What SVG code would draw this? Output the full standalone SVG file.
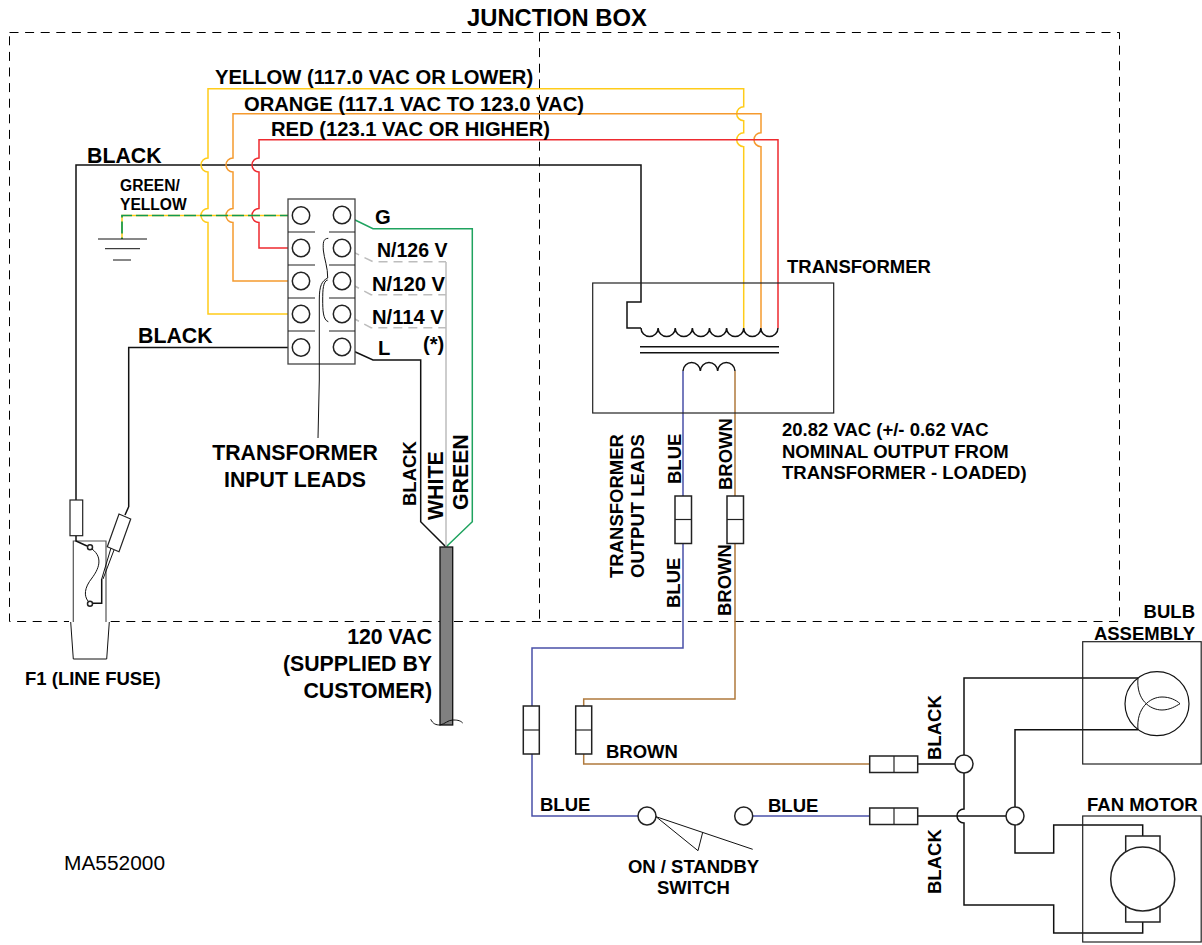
<svg xmlns="http://www.w3.org/2000/svg" width="1202" height="945" viewBox="0 0 1202 945">
<style>
text{font-family:"Liberation Sans",Arial,sans-serif;font-weight:700;fill:#000}
.a{font-size:18.500px}.m{font-size:20.200px}.l{font-size:21.300px}.xs{font-size:15.600px}
.w{fill:none;stroke-width:1.500;stroke-linejoin:miter}
.k{stroke:#111}.y{stroke:#ffcc1a}.o{stroke:#f59a2e}.r{stroke:#ee2a2f}.g{stroke:#1fa35f}.b{stroke:#4a50a8}.n{stroke:#b07a3c}.h{stroke:#bdbdbd}
.t{fill:#fff;stroke:#222;stroke-width:1.500}
.thin{fill:none;stroke:#111;stroke-width:1}
.box{fill:none;stroke:#222;stroke-width:1.200}
.dash{fill:none;stroke:#000;stroke-width:1;stroke-dasharray:9 6.600}
</style>
<g id="junction-box"><rect class="dash" x="9.500" y="32.500" width="1110" height="589"/><path class="dash" d="M539.500 32.500V621.500"/></g>
<g id="connectors">
<path class="w k" d="M76 500V165H641V302H627V328H641"/>
<path class="w y" d="M292 314H208V222.500A7 7 0 0 1 208 208.500V172A7 7 0 0 1 208 158V88.700H743.700V106.700A7 7 0 0 0 743.700 120.700V132.700A7 7 0 0 0 743.700 146.700V328"/>
<path class="w o" d="M292 281H233V222.500A7 7 0 0 1 233 208.500V172A7 7 0 0 1 233 158V113.700H761V132.700A7 7 0 0 0 761 146.700V328"/>
<path class="w r" d="M292 248H259V222.500A7 7 0 0 1 259 208.500V172A7 7 0 0 1 259 158V139.700H778V328"/>
<path d="M292 215.500H122V239" fill="none" stroke="#ffcc1a" stroke-width="1.500"/>
<path d="M292 215.500H122V239" fill="none" stroke="#129a4f" stroke-width="1.700" stroke-dasharray="12 4"/>
<path class="w g" d="M351 218L373 228.700H472.300V521.700L446 547"/>
<path class="w k" d="M351 350L373 360H420.700V521.700L446 547"/>
<path class="w h" d="M446 262V547"/>
<path class="w h" stroke-dasharray="9 6" d="M351 251L373 261.700H446"/>
<path class="w h" stroke-dasharray="9 6" d="M351 284L371 294.700H446"/>
<path class="w h" stroke-dasharray="9 6" d="M351 317L371 327.700H446"/>
<path class="w k" d="M292 347.500H128.700V506.700L125 515"/>
<path class="w b" d="M683 371V648H532V816H640"/>
<path class="w n" d="M735 371V699H583.700V764H870"/>
<path class="w b" d="M752 816H870"/>
<path class="w k" d="M918 764H955M918 816H1006M964 773V809A7 7 0 0 0 964 823V905H1053.700V933H1142.700V922M964 755V678H1138M1015 807V729.700H1138M1015 825V853H1053.700V825H1142.700V836"/>
</g>
<g id="ground"><path class="thin" stroke-width="1.200" d="M98 239H147M105 248.700H140M113 260H131"/></g>
<g id="terminal-block">
<rect x="288" y="199" width="67" height="165" fill="#fff" stroke="#444" stroke-width="1.300"/>
<path class="box" d="M288 232H315M329 232H355M288 265H315M329 265H355M288 298H315M329 298H355M288 331H315M329 331H355"/>
<circle class="t" cx="301" cy="215.500" r="8.700"/><circle class="t" cx="342" cy="215" r="8.700"/>
<circle class="t" cx="301" cy="248" r="8.700"/><circle class="t" cx="342" cy="248" r="8.700"/>
<circle class="t" cx="301" cy="281" r="8.700"/><circle class="t" cx="342" cy="281" r="8.700"/>
<circle class="t" cx="301" cy="314" r="8.700"/><circle class="t" cx="342" cy="314" r="8.700"/>
<circle class="t" cx="301" cy="347.500" r="8.700"/><circle class="t" cx="342" cy="347" r="8.700"/>
<path class="thin" d="M328.300 238.300C323 238.500 323 243 323.300 250C324 258 328 268 327.700 278C322 281 319.300 285 319.300 300V380L318 438"/>
<path class="thin" d="M327.700 280C323 281 322.700 290 322.700 300C322.700 310 323 320 328.300 321.700"/>
</g>
<g id="transformer">
<rect x="592.700" y="283" width="241" height="130" class="box"/>
<path class="w k" d="M641 328a8.560 8.560 0 0 0 17.120 0a8.560 8.560 0 0 0 17.120 0a8.560 8.560 0 0 0 17.120 0a8.560 8.560 0 0 0 17.120 0a8.560 8.560 0 0 0 17.120 0a8.560 8.560 0 0 0 17.120 0a8.560 8.560 0 0 0 17.120 0a8.560 8.560 0 0 0 17.120 0"/>
<path class="w k" d="M640 346.700H779M640 352.700H779"/>
<path class="w k" d="M683 371a8.670 8.670 0 0 1 17.330 0a8.670 8.670 0 0 1 17.330 0a8.670 8.670 0 0 1 17.330 0"/>
</g>
<g id="fuse-f1">
<rect x="69" y="541" width="41" height="83" fill="#fff" stroke="none"/>
<path d="M73.300 622V541H106V622" fill="none" stroke="#555" stroke-width="1.200"/>
<path class="thin" stroke-width="1.200" d="M70.700 622L73.300 659H106.700L109.300 622"/>
<rect x="70" y="500" width="12.700" height="35.700" fill="#fff" stroke="#222" stroke-width="1.200"/>
<path class="w k" d="M76 536V541L87 546"/>
<path d="M119 514L130.700 519L119 551.700L107.300 546.700Z" fill="#fff" stroke="#222" stroke-width="1.200"/>
<path class="thin" d="M111 548L101.700 579M114 550L103 579"/>
<path class="w k" d="M101.700 579V603.300H93"/>
<path class="thin" d="M92 549C104 558 98 570 92 578C84 588 84 596 88 601"/>
<circle cx="90" cy="547.300" r="2.500" class="t"/><circle cx="90" cy="603.700" r="2.500" class="t"/>
</g>
<g id="cable"><rect x="440" y="547" width="12.700" height="178" fill="#808080" stroke="#111" stroke-width="1.300"/><path class="thin" d="M430.700 719.300C433 724 436 725 440 725C445 724 448 720 452.700 720C456 720 460 720 462.700 723"/></g>
<g id="conn-1"><rect x="675" y="496" width="16.500" height="47.500" class="t"/><path class="box" d="M675 519.500H691.500"/></g>
<g id="conn-2"><rect x="727" y="496" width="16.500" height="47.500" class="t"/><path class="box" d="M727 519.500H743.500"/></g>
<g id="conn-3"><rect x="523.300" y="706" width="16" height="48" class="t"/><path class="box" d="M523.300 730H539.300"/></g>
<g id="conn-4"><rect x="575.700" y="706" width="16" height="48" class="t"/><path class="box" d="M575.700 730H591.700"/></g>
<g id="conn-5"><rect x="869.700" y="756" width="48" height="16.500" class="t"/><path class="box" d="M894 756V772.500"/></g>
<g id="conn-6"><rect x="869.700" y="808" width="48" height="16.500" class="t"/><path class="box" d="M894 808V824.500"/></g>
<g id="switch"><circle class="t" cx="647" cy="816" r="9"/><circle class="t" cx="743.700" cy="816" r="9"/><path class="thin" d="M656 816.700L752.700 849.300M656 816.700L698 850.700L702.700 832.300"/></g>
<g id="node-a"><circle class="t" cx="964" cy="764" r="9"/></g>
<g id="node-b"><circle class="t" cx="1015" cy="816" r="9"/></g>
<g id="bulb-assembly"><rect x="1082.700" y="641.700" width="118.500" height="122.300" class="box"/><circle cx="1157" cy="703.700" r="32" fill="none" stroke="#111" stroke-width="1.200"/><path class="thin" stroke-width="1.200" d="M1138 678C1136 700 1150 710 1162 710C1170 710 1176 706 1180 703.700C1176 700 1170 697 1162 697C1150 697 1136 708 1138 730"/></g>
<g id="fan-motor"><rect x="1082.700" y="816" width="118.500" height="126" class="box"/><rect x="1125.700" y="836" width="34.300" height="86" class="t"/><circle cx="1142.700" cy="879" r="32" class="t"/></g>
<g id="labels">
<text x="467" y="26" style="font-size:23.800px">JUNCTION BOX</text>
<text class="m" x="215" y="84">YELLOW (117.0 VAC OR LOWER)</text>
<text class="m" x="244" y="111">ORANGE (117.1 VAC TO 123.0 VAC)</text>
<text class="m" x="271" y="136">RED (123.1 VAC OR HIGHER)</text>
<text class="l" x="87" y="163">BLACK</text>
<text class="xs" x="120" y="191">GREEN/</text><text class="xs" x="120" y="210">YELLOW</text>
<text class="m" x="375" y="224">G</text>
<text class="m" x="377" y="257" style="font-size:19.500px">N/126 V</text>
<text class="m" x="372" y="291">N/120 V</text>
<text class="m" x="372" y="324">N/114 V</text>
<text class="m" x="378" y="355">L</text>
<text class="m" x="423" y="351">(*)</text>
<text class="l" x="138" y="343">BLACK</text>
<text class="l" x="295" y="460" text-anchor="middle">TRANSFORMER</text>
<text class="l" x="295" y="487" text-anchor="middle">INPUT LEADS</text>
<text class="a" x="787" y="273">TRANSFORMER</text>
<text class="a" x="782" y="436">20.82 VAC (+/- 0.62 VAC</text>
<text class="a" x="782" y="458">NOMINAL OUTPUT FROM</text>
<text class="a" x="782" y="479">TRANSFORMER - LOADED)</text>
<text class="a" x="25" y="685">F1 (LINE FUSE)</text>
<text class="l" x="432" y="644" text-anchor="end">120 VAC</text>
<text class="l" x="432" y="671" text-anchor="end">(SUPPLIED BY</text>
<text class="l" x="432" y="698" text-anchor="end">CUSTOMER)</text>
<text x="64" y="870" style="font-weight:400;font-size:20.900px">MA552000</text>
<text class="a" x="693.500" y="873" text-anchor="middle">ON / STANDBY</text>
<text class="a" x="693.500" y="894" text-anchor="middle">SWITCH</text>
<text class="a" x="540" y="811">BLUE</text>
<text class="a" x="768" y="812">BLUE</text>
<text class="a" x="606" y="758">BROWN</text>
<text class="a" x="1195" y="618" text-anchor="end">BULB</text>
<text class="a" x="1195" y="640" text-anchor="end">ASSEMBLY</text>
<text class="a" x="1087" y="811">FAN MOTOR</text>
<text class="a" transform="translate(941,760) rotate(-90)">BLACK</text>
<text class="a" transform="translate(941,894) rotate(-90)">BLACK</text>
<text class="a" transform="translate(415.700,506) rotate(-90)">BLACK</text>
<text class="l" transform="translate(443,520) rotate(-90)">WHITE</text>
<text class="l" transform="translate(468,510) rotate(-90)">GREEN</text>
<text class="a" transform="translate(623,578) rotate(-90)">TRANSFORMER</text>
<text class="a" transform="translate(644,578) rotate(-90)">OUTPUT LEADS</text>
<text class="a" transform="translate(681,484) rotate(-90)">BLUE</text>
<text class="a" transform="translate(680,608) rotate(-90)">BLUE</text>
<text class="a" transform="translate(732,490) rotate(-90)">BROWN</text>
<text class="a" transform="translate(731,616) rotate(-90)">BROWN</text>
</g>
</svg>
